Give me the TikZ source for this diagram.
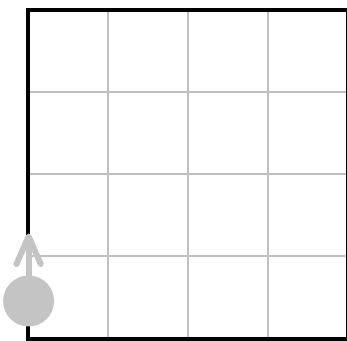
\documentclass[tikz,border=0pt]{standalone}
\begin{document}
\begin{tikzpicture}[x=1pt,y=1pt,
  gridline/.style={draw={rgb,255:red,192;green,192;blue,192},line width=2pt},
  border/.style={draw=black,line width=4pt},
  agent/.style={circle,fill={rgb,255:red,196;green,196;blue,196},minimum size=51pt,inner sep=0pt},
  heading/.style={draw={rgb,255:red,196;green,196;blue,196},line width=6pt,line cap=round,line join=round}]
\useasboundingbox (0,0) rectangle (347,340);
% grid
\foreach \x in {108,188,268} \draw[gridline] (\x,1.5) -- (\x,330);
\foreach \y in {248.25,166,83.75} \draw[gridline] (28,\y) -- (348,\y);
% border
\draw[border] (28,1.5) rectangle (347.8,330);
% agent
\node[agent] (robot) at (28.6,39) {};
\coordinate (tip) at (28.6,103.5);
\coordinate (lft) at (16.5,76);
\coordinate (rgt) at (40.7,76);
\draw[heading,line cap=butt] (robot.center) -- (tip);
\draw[heading] (lft) -- (tip) -- (rgt);
\end{tikzpicture}
\end{document}
